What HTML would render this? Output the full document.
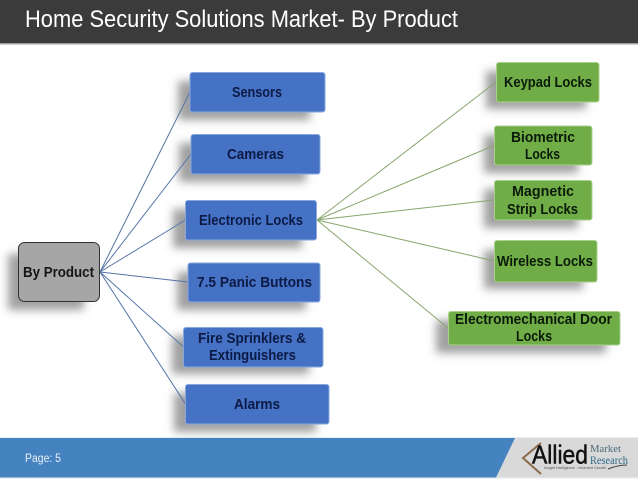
<!DOCTYPE html>
<html><head><meta charset="utf-8"><style>
html,body{margin:0;padding:0;background:#fff;width:638px;height:479px;overflow:hidden}
svg{display:block}
text{font-family:"Liberation Sans",sans-serif}
.b{font-weight:bold;font-size:15px;fill:#0c1a45}
.g{font-weight:bold;font-size:15px;fill:#0a1a0a}
</style></head><body>
<svg width="638" height="479" viewBox="0 0 638 479" xmlns="http://www.w3.org/2000/svg">
<defs>
<filter id="bl" x="-30%" y="-60%" width="160%" height="220%"><feGaussianBlur stdDeviation="4.500"/></filter>
<filter id="sf" x="-5%" y="-5%" width="110%" height="110%"><feGaussianBlur stdDeviation=".35"/></filter>
</defs>
<rect width="638" height="479" fill="#fff"/>
<rect width="638" height="43" fill="#3b3b3b"/>
<rect y="43" width="638" height="1.500" fill="#a0a0a0"/>
<text x="25" y="27" font-size="24.500" fill="#fff" textLength="433" lengthAdjust="spacingAndGlyphs">Home Security Solutions Market- By Product</text>

<!-- shadows -->
<g fill="#555" fill-opacity=".56" filter="url(#bl)">
<rect x="178" y="81" width="132" height="39"/>
<rect x="179" y="143" width="127" height="39"/>
<rect x="173" y="209" width="129" height="39"/>
<rect x="8" y="254" width="76" height="56"/>
<rect x="177" y="272" width="129" height="38"/>
<rect x="172" y="336" width="137" height="38"/>
<rect x="174" y="393" width="142" height="39"/>
<rect x="486" y="71" width="100" height="38"/>
<rect x="484" y="135" width="94" height="38"/>
<rect x="484" y="189" width="94" height="39"/>
<rect x="484" y="250" width="99" height="39"/>
<rect x="436" y="320" width="170" height="33"/>
</g>

<!-- connectors -->
<g stroke="#5575a8" stroke-width="1" fill="none">
<path d="M100 272L190 92M100 272L191 154M100 272L185.500 220M100 272L188 282M100 272L183.500 347M100 272L185.500 404"/>
</g>
<g stroke="#88a56e" stroke-width="1" fill="none">
<path d="M317 220L496 82M317 220L494 145.500M317 220L494 200M317 220L494.500 261M317 220L448 328"/>
</g>

<g filter="url(#sf)">
<!-- gray node -->
<rect x="18.500" y="242.500" width="81" height="59" rx="6" fill="#a6a6a6" stroke="#333" stroke-width="1"/>

<!-- blue nodes -->
<g fill="#4472c4" stroke="#86a8de" stroke-width="1">
<rect x="190" y="72.500" width="135" height="39.500" rx="2.500"/>
<rect x="191" y="134.500" width="129" height="39.500" rx="2.500"/>
<rect x="185.500" y="200.500" width="131" height="39.500" rx="2.500"/>
<rect x="188" y="263" width="132" height="39" rx="2.500"/>
<rect x="183.500" y="327.500" width="139.500" height="39.500" rx="2.500"/>
<rect x="185.500" y="384.500" width="143.500" height="39.500" rx="2.500"/>
</g>
<!-- green nodes -->
<g fill="#70ad47" stroke="#a9d18e" stroke-width="1">
<rect x="496.500" y="62.500" width="102.500" height="39.500" rx="2.500"/>
<rect x="494.500" y="126" width="97.500" height="39" rx="2.500"/>
<rect x="494.500" y="180.500" width="97.500" height="39.500" rx="2.500"/>
<rect x="494.500" y="240.500" width="102.500" height="41.500" rx="2.500"/>
<rect x="448.500" y="311.500" width="171.500" height="33.500" rx="2.500"/>
</g>
</g>

<!-- labels -->
<text class="b" x="232" y="97" textLength="50" lengthAdjust="spacingAndGlyphs">Sensors</text>
<text class="b" x="227" y="159" textLength="57" lengthAdjust="spacingAndGlyphs">Cameras</text>
<text class="b" x="199" y="225" textLength="104" lengthAdjust="spacingAndGlyphs">Electronic Locks</text>
<text class="b" x="197" y="287" textLength="115" lengthAdjust="spacingAndGlyphs">7.5 Panic Buttons</text>
<text class="b" x="198" y="343" textLength="108" lengthAdjust="spacingAndGlyphs">Fire Sprinklers &amp;</text>
<text class="b" x="209" y="360" textLength="87" lengthAdjust="spacingAndGlyphs">Extinguishers</text>
<text class="b" x="234" y="409" textLength="46" lengthAdjust="spacingAndGlyphs">Alarms</text>
<text x="23" y="277" font-size="15" font-weight="bold" fill="#151515" textLength="71" lengthAdjust="spacingAndGlyphs">By Product</text>
<text class="g" x="504" y="87" textLength="88" lengthAdjust="spacingAndGlyphs">Keypad Locks</text>
<text class="g" x="511" y="142" textLength="64" lengthAdjust="spacingAndGlyphs">Biometric</text>
<text class="g" x="525" y="159" textLength="35" lengthAdjust="spacingAndGlyphs">Locks</text>
<text class="g" x="512" y="196" textLength="62" lengthAdjust="spacingAndGlyphs">Magnetic</text>
<text class="g" x="507" y="214" textLength="71" lengthAdjust="spacingAndGlyphs">Strip Locks</text>
<text class="g" x="497" y="266" textLength="96" lengthAdjust="spacingAndGlyphs">Wireless Locks</text>
<text class="g" x="455" y="324" textLength="157" lengthAdjust="spacingAndGlyphs">Electromechanical Door</text>
<text class="g" x="516" y="341" textLength="36" lengthAdjust="spacingAndGlyphs">Locks</text>

<!-- footer -->
<rect y="437.500" width="638" height="1" fill="#c8d9ec"/>
<rect y="438" width="515" height="39.500" fill="#4582c0"/>
<polygon points="515,438 638,438 638,477.500 496,477.500" fill="#d9d9d9"/>
<rect y="477.500" width="638" height="1.500" fill="#eef2f6"/>
<text x="25" y="462" font-size="11.500" fill="#e8f0f8" textLength="36" lengthAdjust="spacingAndGlyphs">Page: 5</text>

<!-- logo -->
<path d="M541 443L523 458L541 474" fill="none" stroke="#8a6a4a" stroke-width="2"/>
<text x="532" y="463.500" font-size="26" fill="#111" stroke="#111" stroke-width=".5" textLength="56" lengthAdjust="spacingAndGlyphs" style="font-family:'Liberation Sans',sans-serif">Allied</text>
<text x="590" y="452" font-size="10.500" fill="#4a6a7a" textLength="31" lengthAdjust="spacingAndGlyphs" style="font-family:'Liberation Serif',serif">Market</text>
<text x="590" y="464" font-size="11.500" fill="#2f6a86" textLength="38" lengthAdjust="spacingAndGlyphs" style="font-family:'Liberation Serif',serif">Research</text>
<text x="544" y="469" font-size="4" fill="#555" textLength="62" lengthAdjust="spacingAndGlyphs">Insight Intelligence - Informed Growth</text>
<path d="M608 469Q618 465 627 465" fill="none" stroke="#444" stroke-width="1"/>
</svg>
</body></html>
